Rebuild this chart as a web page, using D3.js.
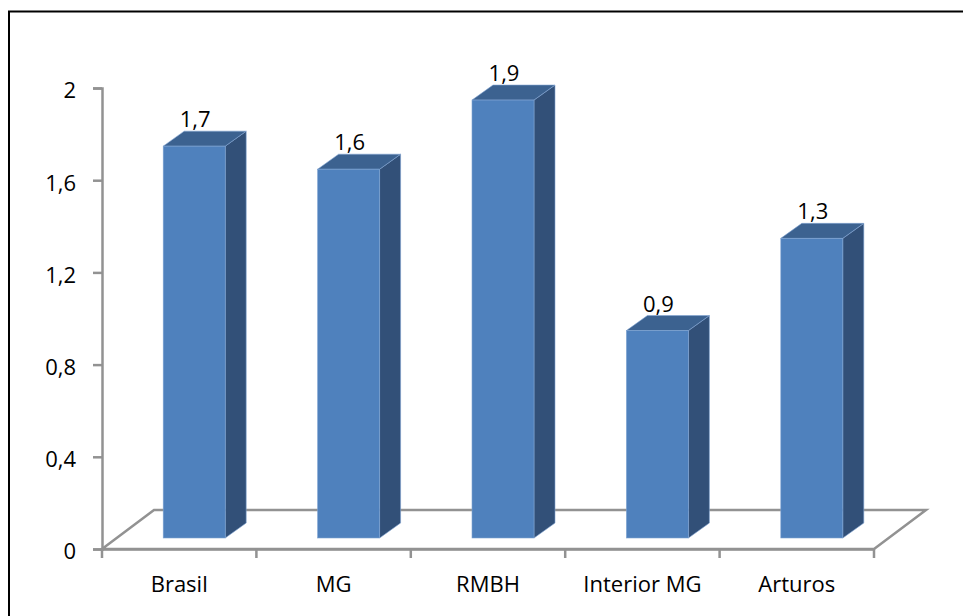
<!DOCTYPE html>
<html>
<head>
<meta charset="utf-8">
<script src="https://d3js.org/d3.v7.min.js"></script>
<style>
html, body { margin: 0; padding: 0; background: #fff; }
svg { display: block; }
text { font-family: "Open Sans", sans-serif; fill: #000; }
</style>
</head>
<body>
<svg id="chart" width="963" height="616"></svg>
<script>
// DATA
const categories = ['Brasil', 'MG', 'RMBH', 'Interior MG', 'Arturos'];
const values = [1.7, 1.6, 1.9, 0.9, 1.3];
const yTicks = [0, 0.4, 0.8, 1.2, 1.6, 2];

// layout
const svg = d3.select('#chart');
const axisColor = '#929292';
const edgeColor = '#7fa3d1';
const floorDepth = { x: 52, y: -39 };
const barDepth = { x: 21, y: -15 };
const barFront = { x: 15, y: -11 }; // bars stand inside the floor, not on its front edge
const barWidth = 62;
const fontSize = 22;

const x = d3.scaleBand().domain(categories).range([102, 874]);
const y = d3.scaleLinear().domain([0, 2]).range([549, 88]);

const comma = v => String(v).replace('.', ',');

// chart frame, only its top and left edges fall inside the picture
svg.append('path')
	.attr('d', 'M9,616V11.5H963')
	.attr('fill', 'none')
	.attr('stroke', '#000')
	.attr('stroke-width', 2);

// floor of the 3d box
const floorPath = d3.path();
floorPath.moveTo(x.range()[0], y(0));
floorPath.lineTo(x.range()[0] + floorDepth.x, y(0) + floorDepth.y);
floorPath.lineTo(x.range()[1] + floorDepth.x, y(0) + floorDepth.y);
floorPath.lineTo(x.range()[1], y(0));
floorPath.closePath();
svg.append('path')
	.attr('d', floorPath.toString())
	.attr('fill', 'none')
	.attr('stroke', axisColor)
	.attr('stroke-width', 2.5);

// y axis
const yAxis = d3.axisLeft(y)
	.tickValues(yTicks)
	.tickFormat(comma)
	.tickSize(9)
	.tickPadding(17);
const yG = svg.append('g').attr('transform', `translate(${x.range()[0]},0)`).call(yAxis);

// x axis, ticks sit on the band edges so they are added by hand from the scale
const xAxis = d3.axisBottom(x).tickSize(0).tickPadding(27);
const xG = svg.append('g').attr('transform', `translate(0,${y(0)})`).call(xAxis);
const xEdges = categories.map(c => x(c)).concat(x.range()[1]);
xG.selectAll('.edge')
	.data(xEdges)
	.enter().append('line')
		.attr('class', 'edge')
		.attr('x1', d => d).attr('x2', d => d)
		.attr('y1', 0).attr('y2', 9);

[yG, xG].forEach(g => {
	g.selectAll('path.domain').attr('stroke', axisColor).attr('stroke-width', 2.5);
	g.selectAll('line').attr('stroke', axisColor).attr('stroke-width', 2.5);
	g.selectAll('text').attr('font-family', '"Open Sans", sans-serif').attr('font-size', fontSize).attr('fill', '#000');
});
yG.selectAll('text').attr('dy', '0.45em');

// bars
const barLeft = c => x(c) + (x.bandwidth() - barWidth) / 2 + barFront.x;
const barTop = v => y(v) + barFront.y;
const barBase = y(0) + barFront.y;

const bars = svg.append('g').selectAll('g')
	.data(categories.map((c, i) => ({ c: c, v: values[i] })))
	.enter().append('g');

// side face
bars.append('path')
	.attr('fill', '#325078')
	.attr('stroke', edgeColor)
	.attr('stroke-width', 0.6)
	.attr('d', d => {
		const r = barLeft(d.c) + barWidth;
		return `M${r},${barTop(d.v)}l${barDepth.x},${barDepth.y}V${barBase + barDepth.y}l${-barDepth.x},${-barDepth.y}Z`;
	});

// top face
bars.append('path')
	.attr('fill', '#3c6290')
	.attr('stroke', edgeColor)
	.attr('stroke-width', 0.6)
	.attr('d', d => {
		const l = barLeft(d.c), t = barTop(d.v);
		return `M${l},${t}l${barDepth.x},${barDepth.y}h${barWidth}l${-barDepth.x},${-barDepth.y}Z`;
	});

// front face
bars.append('rect')
	.attr('fill', '#4f81bd')
	.attr('stroke', edgeColor)
	.attr('stroke-width', 0.6)
	.attr('x', d => barLeft(d.c))
	.attr('y', d => barTop(d.v))
	.attr('width', barWidth)
	.attr('height', d => barBase - barTop(d.v));

// value labels
bars.append('text')
	.attr('x', d => barLeft(d.c) + barWidth / 2 + 1)
	.attr('y', d => barTop(d.v) - 19)
	.attr('text-anchor', 'middle')
	.attr('font-size', fontSize)
	.text(d => comma(d.v));
</script>
</body>
</html>
